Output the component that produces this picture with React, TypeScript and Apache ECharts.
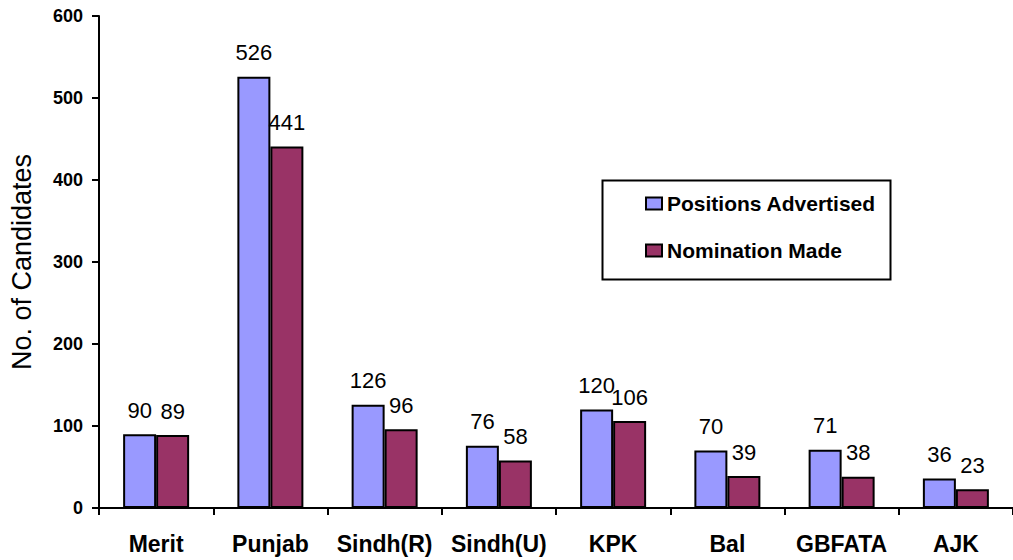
import React, { useEffect, useRef } from "react";
import * as echarts from "echarts";

const categories = ["Merit", "Punjab", "Sindh(R)", "Sindh(U)", "KPK", "Bal", "GBFATA", "AJK"];
const positionsAdvertised = [90, 526, 126, 76, 120, 70, 71, 36];
const nominationMade = [89, 441, 96, 58, 106, 39, 38, 23];
const seriesNames = ["Positions Advertised", "Nomination Made"];

const FONT = "'Liberation Sans', Arial, sans-serif";

export default function App() {
  const ref = useRef<HTMLDivElement>(null);
  useEffect(() => {
    if (!ref.current) return;
    const chart = echarts.init(ref.current, null, { renderer: "svg" });
    const label = {
      show: true,
      position: "top" as const,
      distance: 13,
      color: "#000",
      fontFamily: FONT,
      fontSize: 22,
    };
    chart.setOption({
      animation: false,
      backgroundColor: "#fff",
      textStyle: { fontFamily: FONT },
      grid: { left: 97, right: 0, top: 16, bottom: 52, containLabel: false },
      legend: {
        left: 645,
        top: 193,
        orient: "vertical",
        itemWidth: 16,
        itemHeight: 12,
        itemGap: 26,
        icon: "rect",
        padding: 0,
        textStyle: { fontFamily: FONT, fontSize: 21, fontWeight: "bold", color: "#000" },
        data: seriesNames,
      },
      graphic: [
        {
          type: "rect",
          left: 600,
          top: 178,
          shape: { width: 288, height: 99 },
          style: { fill: "none", stroke: "#000", lineWidth: 2 },
          z: 10,
        },
      ],
      xAxis: {
        type: "category",
        data: categories,
        axisLine: { show: true, lineStyle: { color: "#000", width: 2 } },
        axisTick: { show: true, alignWithLabel: false, length: 7, lineStyle: { color: "#000", width: 2 } },
        axisLabel: { color: "#000", fontFamily: FONT, fontSize: 23, fontWeight: "bold", margin: 24, interval: 0 },
        splitLine: { show: false },
      },
      yAxis: {
        type: "value",
        min: 0,
        max: 600,
        interval: 100,
        name: "No. of Candidates",
        nameLocation: "middle",
        nameRotate: 90,
        nameGap: 64,
        nameTextStyle: { fontFamily: FONT, fontSize: 27, color: "#000" },
        axisLine: { show: true, lineStyle: { color: "#000", width: 2 } },
        axisTick: { show: true, length: 7, lineStyle: { color: "#000", width: 2 } },
        axisLabel: { color: "#000", fontFamily: FONT, fontSize: 18, fontWeight: "bold", margin: 16 },
        splitLine: { show: false },
      },
      series: [
        {
          name: seriesNames[0],
          type: "bar",
          data: positionsAdvertised,
          barWidth: 33,
          barGap: "0%",
          itemStyle: { color: "#9999FF", borderColor: "#000", borderWidth: 2 },
          label,
        },
        {
          name: seriesNames[1],
          type: "bar",
          data: nominationMade,
          barWidth: 33,
          barGap: "0%",
          itemStyle: { color: "#993366", borderColor: "#000", borderWidth: 2 },
          label,
        },
      ],
    });
    return () => chart.dispose();
  }, []);
  return (
    <div
      ref={ref}
      style={{ position: "absolute", left: 0, top: 0, width: 1013, height: 560 }}
    />
  );
}
